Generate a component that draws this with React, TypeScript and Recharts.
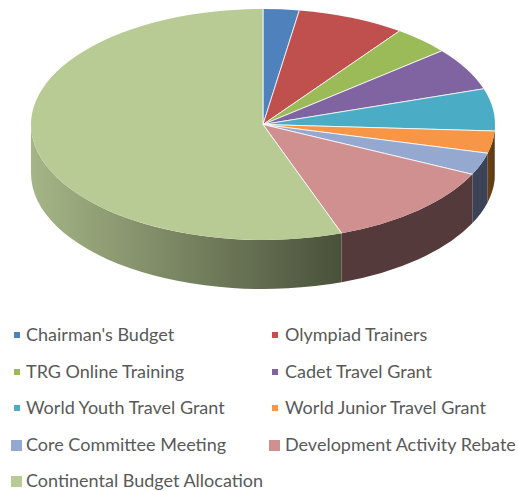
import React from 'react';
import { PieChart, Pie, Legend } from 'recharts';

const categories = [
    "Chairman's Budget",
    'Olympiad Trainers',
    'TRG Online Training',
    'Cadet Travel Grant',
    'World Youth Travel Grant',
    'World Junior Travel Grant',
    'Core Committee Meeting',
    'Development Activity Rebate',
    'Continental Budget Allocation'
];
const shares = [2.5, 7.5, 4.0, 6.0, 5.9, 3.1, 3.1, 12.4, 55.5];
const topColors = ['#4f81bd', '#c0504d', '#9bbb59', '#8064a2', '#4bacc6', '#f79646', '#95a9d0', '#d09090', '#b9cb95'];
const wallLeft = ['#2a4566', '#662a29', '#536430', '#443557', '#285c6a', '#6a4216', '#3c4356', '#553a3b', '#a6b587'];
const wallRight = ['#2a4566', '#662a29', '#536430', '#443557', '#285c6a', '#5c3a14', '#3c4356', '#553a3b', '#49513a'];
const swatchSizes = [6, 6, 6, 6, 6, 6, 11, 11, 11];

const W = 518;
const H = 491;
const CX = 263;
const CY = 124.5;
const RX = 232;
const RY = 115.5;
const DEPTH = 49;
const SQUASH = RY / RX;

const chartData = categories.map((name, i) => ({
    name,
    value: shares[i],
    fill: topColors[i],
    wallFrom: wallLeft[i],
    wallTo: wallRight[i],
    slot: i
}));

const pt = (cx: number, cy: number, r: number, deg: number) => {
    const a = (deg * Math.PI) / 180;
    return [cx + r * Math.cos(a), cy - r * SQUASH * Math.sin(a)];
};

// top face, squashed into an ellipse
const TopSlice = (props: any) => {
    const { cx, cy, outerRadius: r, startAngle, endAngle, fill } = props;
    const [x1, y1] = pt(cx, cy, r, startAngle);
    const [x2, y2] = pt(cx, cy, r, endAngle);
    const large = Math.abs(startAngle - endAngle) > 180 ? 1 : 0;
    return (
        <g>
            <path d={`M${cx},${cy} L${x1},${y1} A${r},${r * SQUASH} 0 ${large} 1 ${x2},${y2} Z`} fill={fill} />
            <path d={`M${x1},${y1} L${cx},${cy} L${x2},${y2}`} fill="none" stroke="#ffffff" strokeWidth={0.9} strokeOpacity={0.85} />
        </g>
    );
};

// side wall, only the part facing the viewer (angles 0 to -180)
const WallSlice = (props: any) => {
    const { cx, cy, outerRadius: r, startAngle, endAngle, wallFrom, wallTo, slot } = props;
    const a = Math.min(startAngle, 0);
    const b = Math.max(endAngle, -180);
    if (a <= b) return <g />;
    const [x1, y1] = pt(cx, cy, r, a);
    const [x2, y2] = pt(cx, cy, r, b);
    const ry = r * SQUASH;
    const id = `wall-${slot}`;
    return (
        <g>
            <defs>
                <linearGradient id={id} x1="1" y1="0" x2="0" y2="0">
                    <stop offset="0" stopColor={wallTo} />
                    <stop offset="1" stopColor={wallFrom} />
                </linearGradient>
            </defs>
            <path
                d={`M${x1},${y1} A${r},${ry} 0 0 1 ${x2},${y2} L${x2},${y2 + DEPTH} A${r},${ry} 0 0 0 ${x1},${y1 + DEPTH} Z`}
                fill={`url(#${id})`}
            />
        </g>
    );
};

const rowTops = [334, 371, 407, 444, 480];

const LegendBlock = () => (
    <div style={{ position: 'relative', width: W, height: H }}>
        {categories.map((name, i) => {
            const row = Math.floor(i / 2);
            const col = i % 2;
            const size = swatchSizes[i];
            const mid = rowTops[row];
            const swatchMid = col === 0 ? 16.5 : 274.5;
            return (
                <React.Fragment key={name}>
                    <span
                        style={{
                            position: 'absolute',
                            left: swatchMid - size / 2,
                            top: mid + 1 - size / 2,
                            width: size,
                            height: size,
                            background: topColors[i]
                        }}
                    />
                    <span
                        style={{
                            position: 'absolute',
                            left: col === 0 ? 26 : 285,
                            top: mid - 12,
                            lineHeight: '24px',
                            whiteSpace: 'nowrap',
                            fontFamily: 'Lato, sans-serif',
                            fontSize: 18,
                            color: '#595959'
                        }}
                    >
                        {name}
                    </span>
                </React.Fragment>
            );
        })}
    </div>
);

export default function App() {
    return (
        <div style={{ position: 'absolute', left: 0, top: 0, width: W, height: H, background: '#ffffff' }}>
            <PieChart width={W} height={H} margin={{ top: 0, right: 0, bottom: 0, left: 0 }}>
                <Pie
                    data={chartData}
                    dataKey="value"
                    nameKey="name"
                    cx={CX}
                    cy={CY}
                    outerRadius={RX}
                    startAngle={90}
                    endAngle={-270}
                    stroke="none"
                    shape={WallSlice}
                    isAnimationActive={false}
                    legendType="none"
                />
                <Pie
                    data={chartData}
                    dataKey="value"
                    nameKey="name"
                    cx={CX}
                    cy={CY}
                    outerRadius={RX}
                    startAngle={90}
                    endAngle={-270}
                    stroke="none"
                    shape={TopSlice}
                    isAnimationActive={false}
                    legendType="none"
                />
                <Legend
                    content={<LegendBlock />}
                    wrapperStyle={{ position: 'absolute', left: 0, top: 0, width: W, height: H }}
                />
            </PieChart>
        </div>
    );
}
